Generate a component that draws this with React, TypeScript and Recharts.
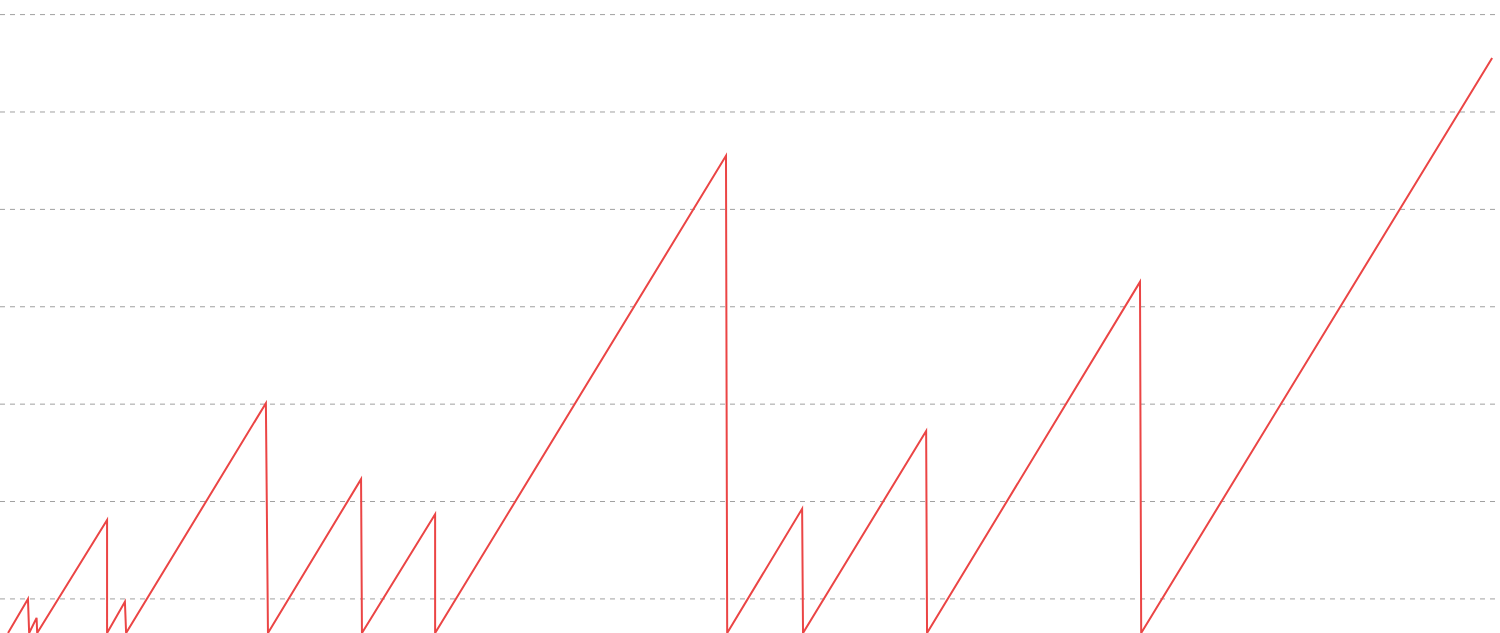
import React from 'react';
import { LineChart, Line, XAxis, YAxis, CartesianGrid } from 'recharts';

// vertices of the streak line: day index and streak length
const dayIndex = [
  2.7, 9.4, 9.8, 12.3, 12.5, 36.0, 36.0, 42.0, 42.4, 89.4, 90.1, 121.4,
  121.7, 146.3, 146.3, 244.1, 244.5, 269.7, 270.0, 311.4, 311.7, 383.3, 383.7, 501.7,
];
const streakValue = [
  0, 7.0, 0, 3.1, 0, 23.2, 0, 6.4, 0, 47.2, 0, 31.6,
  0, 24.4, 0, 98.0, 0, 25.5, 0, 41.5, 0, 72.1, 0, 118.1,
];
const yTicks = [7, 27, 47, 67, 87, 107, 127];

const data = dayIndex.map((d, i) => ({ day: d, streak: streakValue[i] }));

export default function App() {
  return (
    <div style={{ width: 1500, height: 633, background: '#fff' }}>
      <style>{'body{margin:0;}'}</style>
      <LineChart width={1496} height={633} data={data} margin={{ top: 0, right: 0, bottom: 0, left: 0 }}>
        <CartesianGrid
          vertical={false}
          horizontalValues={yTicks}
          stroke="#a0a0a0"
          strokeDasharray="5 5"
        />
        <XAxis type="number" dataKey="day" domain={[0, 503]} hide />
        <YAxis type="number" domain={[0, 130]} ticks={yTicks} hide />
        <Line
          type="linear"
          dataKey="streak"
          stroke="#eb4545"
          strokeWidth={2}
          dot={false}
          activeDot={false}
          isAnimationActive={false}
        />
      </LineChart>
    </div>
  );
}
